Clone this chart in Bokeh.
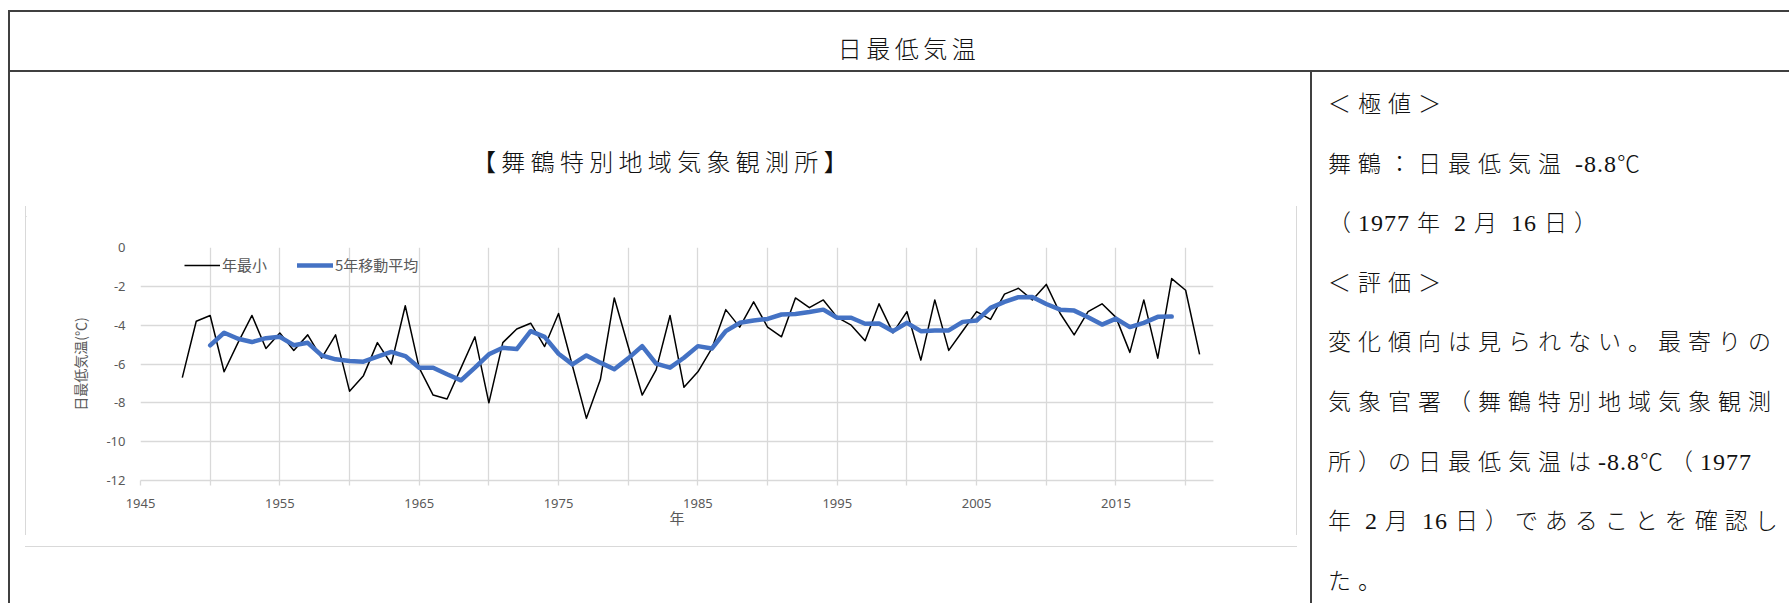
import re
from bokeh.plotting import figure
from bokeh.models import Range1d, FixedTicker, Legend, LegendItem, Div, Spacer
from bokeh.layouts import column, row
from bokeh.embed import file_html
from bokeh.resources import INLINE

# ---------------- data ----------------
years = list(range(1948, 2022))
annual_min = [
    -6.7, -3.8, -3.5, -6.4, -4.9, -3.5, -5.2, -4.4, -5.3, -4.5,   # 1948-1957
    -5.7, -4.5, -7.4, -6.6, -4.9, -6.0, -3.0, -6.2, -7.6, -7.8,   # 1958-1967
    -6.2, -4.6, -8.0, -4.9, -4.2, -3.9, -5.1, -3.4, -6.1, -8.8,   # 1968-1977
    -6.8, -2.6, -5.1, -7.6, -6.3, -3.5, -7.2, -6.4, -5.2, -3.2,   # 1978-1987
    -4.1, -2.8, -4.1, -4.6, -2.6, -3.1, -2.7, -3.6, -4.0, -4.8,   # 1988-1997
    -2.9, -4.4, -3.3, -5.8, -2.7, -5.3, -4.3, -3.3, -3.7, -2.4,   # 1998-2007
    -2.1, -2.7, -1.9, -3.4, -4.5, -3.3, -2.9, -3.6, -5.4, -2.7,   # 2008-2017
    -5.7, -1.6, -2.2, -5.5,                                       # 2018-2021
]
ma_years = list(range(1950, 2020))
ma5 = [
    -5.04, -4.39, -4.70, -4.87, -4.67, -4.60, -5.03, -4.91, -5.56, -5.76,  # 1950-1959
    -5.85, -5.88, -5.62, -5.38, -5.59, -6.19, -6.19, -6.53, -6.84, -6.19,  # 1960-1969
    -5.50, -5.16, -5.23, -4.31, -4.60, -5.47, -6.02, -5.56, -5.93, -6.27,  # 1970-1979
    -5.71, -5.08, -5.98, -6.19, -5.68, -5.08, -5.20, -4.31, -3.88, -3.76,  # 1980-1989
    -3.68, -3.45, -3.42, -3.32, -3.20, -3.62, -3.62, -3.93, -3.91, -4.31,  # 1990-1999
    -3.88, -4.31, -4.27, -4.27, -3.83, -3.76, -3.11, -2.80, -2.56, -2.55,  # 2000-2009
    -2.91, -3.20, -3.25, -3.59, -3.97, -3.66, -4.10, -3.88, -3.57, -3.56,  # 2010-2019
]
x_ticks = list(range(1945, 2021, 5))
x_tick_labels = {t: (str(t) if (t - 1945) % 10 == 0 else "") for t in x_ticks}
y_ticks = [-12, -10, -8, -6, -4, -2, 0]
y_tick_labels = {t: str(t) for t in y_ticks}

header_text = "日最低気温"
chart_title = "【舞鶴特別地域気象観測所】"
x_label = "年"
y_label = "日最低気温(℃)"
series_names = ["年最小", "5年移動平均"]
right_lines = [
    "＜極値＞",
    "舞鶴：日最低気温 -8.8℃",
    "（1977 年 2 月 16 日）",
    "＜評価＞",
    "変化傾向は見られない。最寄りの",
    "気象官署（舞鶴特別地域気象観測",
    "所）の日最低気温は-8.8℃（1977",
    "年 2 月 16 日）であることを確認し",
    "た。",
]

# ---------------- chart ----------------
GRID = "#d9d9d9"
TXT = "#595959"
CJK = "Noto Sans CJK JP"

p = figure(width=1270, height=329, x_range=Range1d(1945, 2022), y_range=Range1d(-12, 0),
           output_backend="svg", toolbar_location=None,
           min_border_left=114, min_border_right=83, min_border_top=41, min_border_bottom=55,
           background_fill_color="white", border_fill_color="white", margin=0)
p.outline_line_color = None

p.xaxis.ticker = FixedTicker(ticks=x_ticks)
p.xaxis.major_label_overrides = x_tick_labels
p.yaxis.ticker = FixedTicker(ticks=y_ticks)
p.yaxis.major_label_overrides = y_tick_labels
p.xgrid.grid_line_color = GRID
p.ygrid.grid_line_color = GRID
p.xgrid.grid_line_width = 1.3
p.ygrid.grid_line_width = 1.3

p.xaxis.axis_line_color = GRID
p.xaxis.axis_line_width = 1.3
p.xaxis.major_tick_line_color = GRID
p.xaxis.major_tick_line_width = 1.3
p.xaxis.major_tick_out = 5
p.xaxis.major_tick_in = 0
p.xaxis.minor_tick_line_color = None
p.xaxis.major_label_standoff = 13

p.yaxis.axis_line_color = None
p.yaxis.major_tick_line_color = None
p.yaxis.minor_tick_line_color = None
p.yaxis.major_tick_out = 0
p.yaxis.major_label_standoff = 15

for ax in (p.xaxis[0], p.yaxis[0]):
    ax.major_label_text_font = "Noto Sans"
    ax.major_label_text_font_size = "13px"
    ax.major_label_text_color = TXT
    ax.axis_label_text_font = CJK
    ax.axis_label_text_font_size = "15px"
    ax.axis_label_text_font_style = "normal"
    ax.axis_label_text_color = TXT

p.yaxis.axis_label_text_font_size = "14px"
p.xaxis.axis_label = x_label
p.yaxis.axis_label = y_label
p.xaxis.axis_label_standoff = -4
p.yaxis.axis_label_standoff = 13

r_min = p.line(years, annual_min, line_color="black", line_width=1.5, line_join="round")
r_ma = p.line(ma_years, ma5, line_color="#4472C4", line_width=4.5, line_join="round",
              line_cap="round")

legend = Legend(items=[LegendItem(label=series_names[0], renderers=[r_min]),
                       LegendItem(label=series_names[1], renderers=[r_ma])],
                orientation="horizontal", location=(44, 205),
                border_line_color=None, background_fill_alpha=0,
                padding=0, margin=0, spacing=30, glyph_width=36, glyph_height=20,
                label_height=20, label_standoff=2,
                label_text_font=CJK, label_text_font_size="15px", label_text_color=TXT)
p.add_layout(legend)

# ---------------- page layout (Bokeh's template sets body margin 0) ----------------
DARK = "#404040"
BODY_H = 531
LATIN_SPAN = ('<span style="font-family:Liberation Serif;font-weight:400;letter-spacing:1px;'
              'font-size:24px;line-height:1;">')


def box(w, h, html):
    return Div(text=html, width=w, height=h, margin=0)


def fill(w, h, color):
    return box(w, h, f'<div style="width:{w}px;height:{h}px;background:{color};"></div>')


def latin_runs(s):
    return re.sub(r'([\x20-\x7e]+)', lambda m: LATIN_SPAN + m.group(1) + '</span>', s)


header = box(1781, 62,
             f'<div style="box-sizing:border-box;width:1781px;height:62px;'
             f'border-top:2px solid {DARK};border-bottom:2px solid {DARK};border-left:2px solid {DARK};'
             f'font-family:{CJK};font-weight:300;font-size:24px;letter-spacing:4.5px;color:#111;'
             f'text-align:center;padding-top:24px;padding-left:19px;line-height:24px;white-space:nowrap;">'
             f'{header_text}</div>')

title_div = box(1300, 133,
                f'<div style="box-sizing:border-box;width:1300px;height:133px;'
                f'font-family:{CJK};font-weight:300;font-size:24px;letter-spacing:5.3px;color:#111;'
                f'text-align:center;padding-top:77px;padding-left:5px;line-height:24px;white-space:nowrap;">'
                f'{chart_title}</div>')

frame_block = column(
    fill(1272, 1, GRID),
    row(fill(1, 329, GRID), p, fill(1, 329, GRID), spacing=0),
    fill(1272, 1, GRID),
    spacing=0,
)

left_cell = column(
    title_div,
    row(Spacer(width=15, height=331, margin=0), frame_block, Spacer(width=13, height=331, margin=0), spacing=0),
    Spacer(width=1300, height=BODY_H - 133 - 331, margin=0),
    spacing=0,
)

right_html = "<br>".join(latin_runs(s) for s in right_lines)
right_div = box(477, BODY_H,
                f'<div style="box-sizing:border-box;width:477px;height:{BODY_H}px;overflow:hidden;'
                f'padding:1px 0 0 16px;font-family:{CJK};font-weight:300;'
                f'font-size:23px;letter-spacing:7px;line-height:59.6px;white-space:nowrap;color:#111;">'
                f'{right_html}</div>')

body = row(fill(2, BODY_H, DARK), left_cell, fill(2, BODY_H, DARK), right_div, spacing=0)

page = column(Spacer(width=1781, height=10, margin=0), header, body, spacing=0)
root = row(Spacer(width=8, height=10, margin=0), page, spacing=0)

open("out.html", "w").write(file_html(root, INLINE))
